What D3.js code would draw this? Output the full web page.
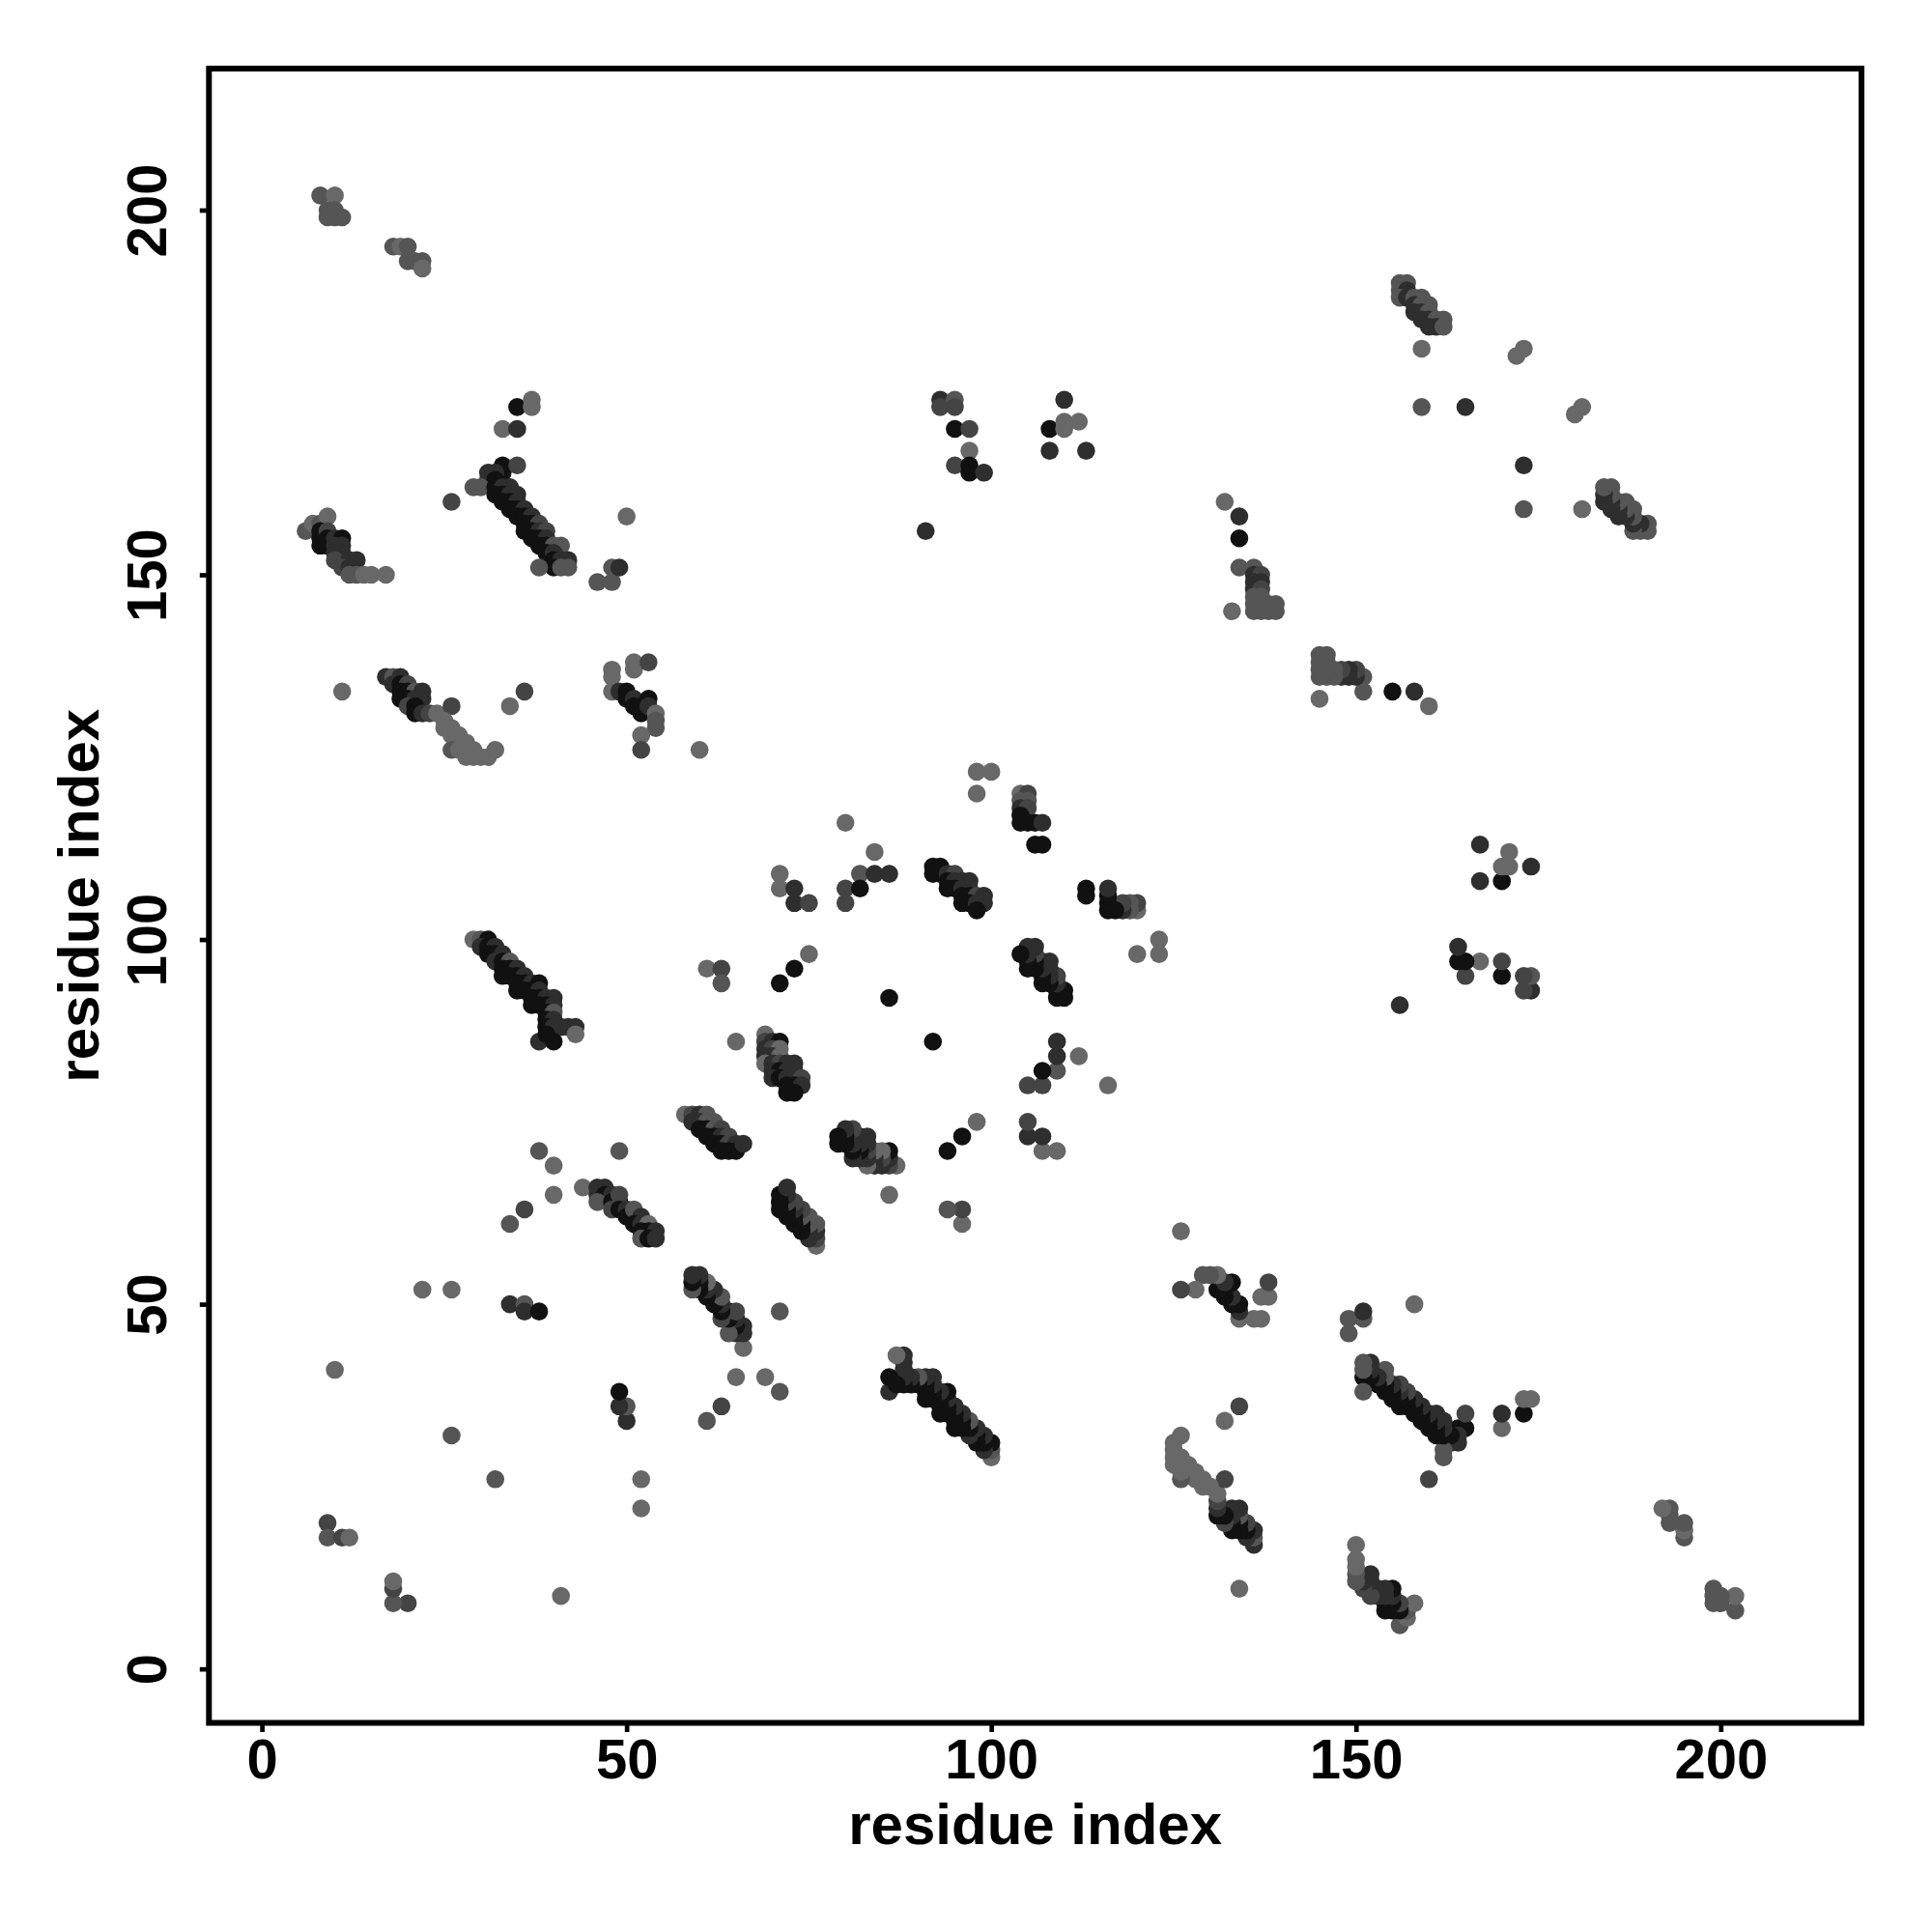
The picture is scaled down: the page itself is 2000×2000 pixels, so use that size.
<!DOCTYPE html>
<html>
<head>
<meta charset="utf-8">
<script src="https://cdn.jsdelivr.net/npm/d3@7"></script>
<style>
  html, body { margin: 0; padding: 0; background: #fff; }
  svg { display: block; }
</style>
</head>
<body>
<svg id="chart" width="2000" height="2000"></svg>
<script>
// ---- data: residue contact pairs (i < j); the map is symmetric, each pair is drawn at (i,j) and (j,i)
// third value = confidence level index into shadeColors (0 = darkest)
const shadeColors = ["#111111", "#2e2e2e", "#444444", "#555555", "#686868"];
const tickValues = [0, 50, 100, 150, 200];
const xTitle = "residue index";
const yTitle = "residue index";

const contacts = [
  // top-left groups
  [8,202,3],[10,202,4],[9,200,3],[10,200,3],[9,199,3],[10,199,3],[11,199,3],
  [18,195,3],[19,195,4],[20,195,3],[20,193,3],[21,193,3],[22,193,3],[22,192,4],
  // 6-17 x 150-158
  [6,156,3],[7,157,4],[8,157,3],[9,158,4],[8,156,0],[8,155,0],[9,156,2],[8,154,0],[9,155,0],[9,154,0],
  [10,155,1],[11,155,0],[10,154,1],[11,154,1],[10,153,1],[11,153,1],[10,152,2],[12,152,1],[13,152,1],
  [11,151,2],[12,151,1],[12,150,3],[13,150,3],[14,150,4],[15,150,4],[17,150,4],
  // 26-42 x 151-174
  [35,173,0],[37,174,4],[37,173,4],[33,170,4],[35,170,1],[33,165,0],[33,164,0],[35,165,2],[31,164,1],
  [32,164,1],[31,163,1],[32,163,0],[29,162,3],[30,162,3],[26,160,2],[32,162,0],[33,162,1],[34,162,1],
  [32,161,0],[33,161,0],[34,161,1],[35,161,1],[33,160,0],[34,160,0],[35,160,1],[34,159,0],[35,159,0],
  [36,159,1],[35,158,0],[36,158,0],[37,158,1],[36,157,0],[37,157,0],[38,157,2],[36,156,0],[37,156,0],
  [38,156,1],[39,156,2],[37,155,0],[38,155,0],[39,155,1],[38,154,0],[39,154,0],[40,154,3],[41,154,3],
  [39,153,0],[40,153,1],[40,152,0],[41,152,1],[42,152,1],[40,151,0],[41,151,3],[42,151,3],[38,151,3],
  [50,158,4],[46,149,3],[48,149,3],[48,151,3],[49,151,1],
  // 11-36 x 125-136
  [11,134,4],[17,136,1],[18,136,3],[19,136,1],[18,135,1],[19,135,0],[20,135,2],[19,134,0],[20,134,0],
  [21,134,3],[22,134,1],[19,133,0],[20,133,0],[21,133,1],[22,133,1],[20,132,2],[21,132,0],[21,131,0],
  [22,131,1],[23,131,2],[24,131,4],[26,132,2],[25,130,4],[25,129,4],[26,129,4],[26,128,4],[27,128,4],
  [27,127,4],[28,127,4],[26,126,3],[27,126,4],[28,126,4],[29,126,4],[28,125,4],[29,125,4],[30,125,4],
  [31,125,4],[32,126,4],[34,132,4],[36,134,2],
  // 47-60 x 126-138
  [48,137,4],[48,136,4],[48,134,4],[51,138,4],[51,137,4],[53,138,2],[49,134,1],[50,134,0],[50,133,0],
  [51,133,1],[51,132,0],[52,132,0],[52,131,0],[53,133,0],[53,132,1],[54,131,4],[54,130,3],[54,129,3],
  [52,128,4],[52,126,2],[60,126,4],
  // 29-43 x 86-100
  [29,100,4],[30,100,3],[31,100,0],[30,99,1],[31,99,0],[32,99,1],[31,98,0],[32,98,0],[33,98,1],
  [32,97,1],[33,97,0],[34,97,3],[33,96,0],[34,96,0],[35,96,1],[33,95,0],[34,95,0],[35,95,0],[36,95,1],
  [35,94,0],[36,94,0],[37,94,1],[38,94,0],[35,93,0],[36,93,0],[37,93,0],[38,93,1],[37,92,0],[38,92,0],
  [39,92,1],[40,92,1],[37,91,0],[38,91,0],[39,91,0],[40,91,1],[39,90,0],[40,90,3],[39,89,0],[40,89,1],
  [39,88,0],[40,88,1],[41,88,1],[42,88,1],[43,88,1],[38,86,1],[40,86,0],[43,87,4],[39,87,0],
  // lower-left region
  [38,71,3],[40,69,4],[40,65,4],[36,63,2],[34,61,3],[49,71,3],[44,66,4],
  [46,66,1],[47,66,1],[46,65,1],[47,65,0],[48,65,1],[46,64,3],[48,64,0],[49,64,0],[49,65,2],[48,63,2],
  [49,63,0],[50,63,1],[50,62,0],[51,62,0],[51,63,3],[52,62,1],[51,61,0],[52,61,1],[53,61,4],[52,60,0],
  [53,60,0],[54,60,1],[52,59,3],[53,59,0],[54,59,1],
  [22,52,4],[26,52,4],[34,50,1],[36,50,3],[36,49,1],[38,49,0],[10,41,4],[26,32,3],
  [9,20,2],[9,18,3],[11,18,2],[12,18,4],
  // central region
  [61,96,4],[63,96,2],[63,94,3],[75,98,4],[73,96,0],[71,94,0],[86,92,0],[65,86,4],
  [69,87,4],[69,86,2],[70,86,1],[71,86,0],[69,85,1],[70,85,2],[71,85,4],[69,84,1],[70,84,1],[71,84,4],
  [69,83,4],[70,83,1],[71,83,2],[72,83,1],[73,83,1],[70,82,1],[71,82,0],[72,82,1],[73,82,1],[70,81,1],
  [71,81,0],[72,81,1],[74,81,2],[72,80,0],[73,80,0],[74,80,1],[72,79,0],[73,79,0],
  [58,76,4],[59,76,2],[60,76,1],[61,76,3],[59,75,1],[60,75,1],[61,75,3],[62,75,3],[60,74,0],[61,74,0],
  [62,74,3],[63,74,2],[61,73,0],[62,73,0],[63,73,1],[64,73,2],[62,72,0],[63,72,0],[64,72,2],[65,72,1],
  [63,71,0],[64,71,0],[65,71,0],[66,72,1],
  // 70-123 x 104-123
  [98,123,4],[100,123,4],[98,120,4],
  [104,120,4],[105,120,2],[104,119,3],[105,119,3],[104,118,1],[105,118,2],[104,117,0],[104,116,0],
  [105,116,0],[106,116,0],[107,116,1],[106,113,0],[107,113,0],
  [80,116,4],[84,112,4],[82,109,3],[84,109,1],[86,109,1],[80,107,2],[82,107,0],[80,105,2],
  [71,109,4],[71,107,4],[73,107,1],[73,105,1],[75,105,2],
  [92,110,0],[93,110,0],[92,109,0],[93,109,0],[94,109,1],[95,109,2],[94,108,0],[95,108,1],[96,108,1],
  [97,108,1],[94,107,0],[95,107,0],[96,107,1],[97,107,1],[96,106,0],[97,106,0],[98,106,2],[99,106,1],
  [96,105,0],[97,105,0],[98,105,1],[99,105,1],[98,104,0],
  // 91-113 x 156-174
  [93,174,1],[93,173,2],[95,174,3],[95,173,2],[95,170,0],[97,170,2],[97,167,4],[95,165,2],[97,165,0],
  [97,164,0],[99,164,1],[91,156,1],[110,174,1],[108,170,0],[110,171,4],[110,170,4],[112,171,4],
  [108,167,1],[113,167,1],
  // upper right of upper triangle
  [156,190,3],[157,190,3],[156,189,3],[157,189,1],[156,188,3],[157,188,1],[158,188,3],[159,188,3],
  [158,187,1],[159,187,3],[160,187,3],[158,186,1],[159,186,1],[160,186,3],[159,185,1],[160,185,1],
  [161,185,3],[162,185,3],[160,184,1],[161,184,1],[162,184,3],
  [159,181,4],[172,180,4],[173,181,4],[159,173,3],[165,173,1],
  [132,160,4],[134,158,1],[134,155,0],
  [134,151,3],[136,151,3],[136,150,1],[137,150,2],[136,149,1],[137,149,1],[136,148,1],[137,148,2],
  [136,147,3],[137,147,3],[136,146,3],[137,146,3],[138,146,3],[139,146,3],[136,145,3],[137,145,3],
  [138,145,3],[139,145,3],[133,145,4]
];

// ---- layout
const plot = { left: 216.3, right: 1927, top: 71, bottom: 1783.5 };
const fontFamily = "'Liberation Sans', Arial, Helvetica, sans-serif";
const frameW = 6;
const tickW = 4.7;

const svg = d3.select("#chart");
svg.append("rect").attr("width", 2000).attr("height", 2000).attr("fill", "#fff");

const x = d3.scaleLinear().domain([-7.3, 219.3]).range([216, 1927]);
const y = d3.scaleLinear().domain([-7.2, 219.4]).range([1782, 71]);

// points: both halves of the symmetric map
const points = [];
contacts.forEach(([i, j, lv]) => {
  points.push({ px: i, py: j, lv });
  points.push({ px: j, py: i, lv });
});

svg.append("g").selectAll("circle")
  .data(points)
  .join("circle")
  .attr("cx", d => x(d.px))
  .attr("cy", d => y(d.py))
  .attr("r", 9.3)
  .attr("fill", d => shadeColors[d.lv]);

// frame
svg.append("rect")
  .attr("x", plot.left).attr("y", plot.top)
  .attr("width", plot.right - plot.left).attr("height", plot.bottom - plot.top)
  .attr("fill", "none").attr("stroke", "#000").attr("stroke-width", frameW);

// x axis
const gx = svg.append("g")
  .attr("transform", `translate(0,${plot.bottom})`)
  .call(d3.axisBottom(x).tickValues(tickValues).tickSize(9.5).tickSizeOuter(0).tickFormat(d3.format("d")));
gx.select(".domain").remove();
gx.selectAll(".tick line").attr("stroke", "#000").attr("stroke-width", tickW);
gx.selectAll(".tick text")
  .attr("y", 57).attr("dy", 0)
  .attr("fill", "#000")
  .attr("font-family", fontFamily).attr("font-weight", "bold").attr("font-size", 58);

// y axis
const gy = svg.append("g")
  .attr("transform", `translate(${plot.left},0)`)
  .call(d3.axisLeft(y).tickValues(tickValues).tickSize(9.5).tickSizeOuter(0).tickFormat(d3.format("d")));
gy.select(".domain").remove();
gy.selectAll(".tick line").attr("stroke", "#000").attr("stroke-width", tickW);
gy.selectAll(".tick text")
  .attr("x", 0).attr("y", -44).attr("dy", 0)
  .attr("transform", "rotate(-90)")
  .attr("text-anchor", "middle")
  .attr("fill", "#000")
  .attr("font-family", fontFamily).attr("font-weight", "bold").attr("font-size", 58);

// titles
svg.append("text")
  .attr("x", (plot.left + plot.right) / 2).attr("y", 1909)
  .attr("text-anchor", "middle")
  .attr("font-family", fontFamily).attr("font-weight", "bold").attr("font-size", 60)
  .text(xTitle);

svg.append("text")
  .attr("transform", `translate(102,${(plot.top + plot.bottom) / 2}) rotate(-90)`)
  .attr("text-anchor", "middle")
  .attr("font-family", fontFamily).attr("font-weight", "bold").attr("font-size", 60)
  .text(yTitle);
</script>
</body>
</html>
